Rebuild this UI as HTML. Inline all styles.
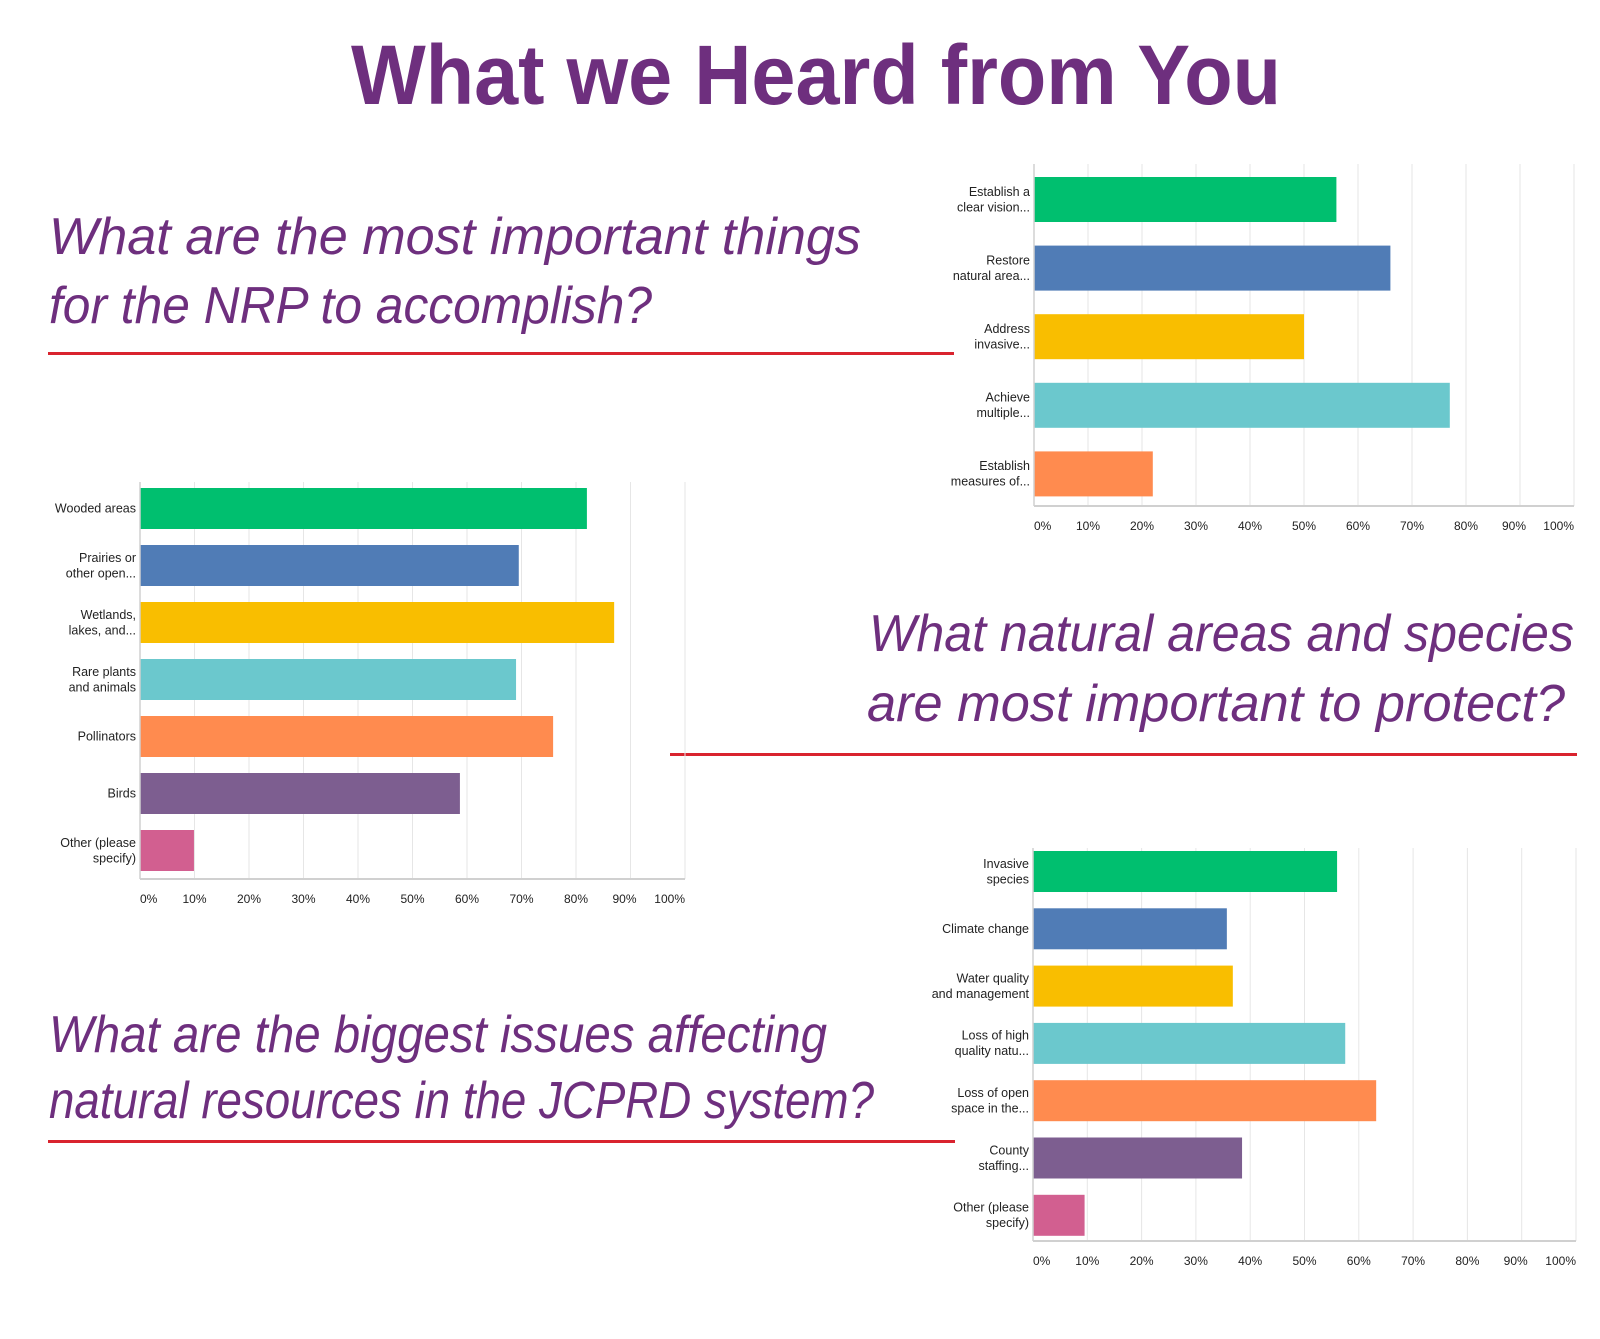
<!DOCTYPE html>
<html><head><meta charset="utf-8"><style>
html,body{margin:0;padding:0;background:#fff;width:1600px;height:1339px;overflow:hidden}
svg{display:block}
.lbl{font-family:"Liberation Sans",sans-serif;font-size:12.5px;fill:#222;text-anchor:end}
.tick{font-family:"Liberation Sans",sans-serif;font-size:12px;fill:#222}
.q{font-family:"Liberation Sans",sans-serif;font-style:italic;font-size:52px;fill:#6e2f7e}
</style></head><body>
<svg id="page" width="1600" height="1339" viewBox="0 0 1600 1339">
<text x="816" y="104" text-anchor="middle" textLength="930" lengthAdjust="spacingAndGlyphs" style="font-family:'Liberation Sans',sans-serif;font-weight:bold;font-size:84px;fill:#6e2f7e">What we Heard from You</text>

<g>
<text class="q" x="49" y="254" textLength="812" lengthAdjust="spacingAndGlyphs">What are the most important things</text>
<text class="q" x="49" y="323" textLength="603" lengthAdjust="spacingAndGlyphs">for the NRP to accomplish?</text>
<rect x="48" y="352" width="906" height="3" fill="#d9232e"/>
</g>
<g>
<text class="q" x="869" y="651" textLength="705" lengthAdjust="spacingAndGlyphs">What natural areas and species</text>
<text class="q" x="867" y="721" textLength="698" lengthAdjust="spacingAndGlyphs">are most important to protect?</text>
<rect x="670" y="753" width="907" height="3" fill="#d9232e"/>
</g>
<g>
<text class="q" x="49" y="1052" textLength="778" lengthAdjust="spacingAndGlyphs">What are the biggest issues affecting</text>
<text class="q" x="49" y="1118" textLength="825" lengthAdjust="spacingAndGlyphs">natural resources in the JCPRD system?</text>
<rect x="48" y="1140" width="907" height="3" fill="#d9232e"/>
</g>
<g id="charts"></g>
</svg>
<script>
const colors = ["#00bf6f","#507cb6","#f9be00","#6bc8cd","#ff8b4f","#7d5e90","#d25f90"];
const ticks = ["0%","10%","20%","30%","40%","50%","60%","70%","80%","90%","100%"];
const goalsCats = [["Establish a","clear vision..."],["Restore","natural area..."],["Address","invasive..."],["Achieve","multiple..."],["Establish","measures of..."]];
const goalsVals = [56,66,50,77,22];
const areasCats = [["Wooded areas"],["Prairies or","other open..."],["Wetlands,","lakes, and..."],["Rare plants","and animals"],["Pollinators"],["Birds"],["Other (please","specify)"]];
const areasVals = [82,69.5,87,69,75.8,58.7,9.9];
const issuesCats = [["Invasive","species"],["Climate change"],["Water quality","and management"],["Loss of high","quality natu..."],["Loss of open","space in the..."],["County","staffing..."],["Other (please","specify)"]];
const issuesVals = [56,35.7,36.8,57.5,63.2,38.5,9.5];

const NS="http://www.w3.org/2000/svg";
function mk(tag,attrs,parent){const e=document.createElementNS(NS,tag);for(const k in attrs)e.setAttribute(k,attrs[k]);parent.appendChild(e);return e;}
function chart(name,cats,vals,x0,w,top,barTop,pitch,bh,axisY){
  const root=document.getElementById('charts');
  const g=mk('g',{},root);
  
  
  const xs=v=>x0+v/100*w;
  for(let i=1;i<ticks.length;i++){
    const gl=mk('line',{x1:xs(i*10),x2:xs(i*10),y1:top,y2:axisY,stroke:'#e6e6e6','stroke-width':1},g);
    
    
  }
  cats.forEach((c,i)=>{
    const y=barTop+i*pitch;
    const r=mk('rect',{x:x0,y:y,width:xs(vals[i])-x0,height:bh,fill:colors[i]},g);
    
    
    const t=mk('text',{class:'lbl',x:x0-4},g);
    
    
    const cy=y+bh/2;
    c.forEach((s,j)=>{const ts=mk('tspan',{x:x0-4,y:cy+4+(j-(c.length-1)/2)*15.5},t);ts.textContent=s;});
  });
  const ax=mk('line',{x1:x0,x2:x0+w,y1:axisY,y2:axisY,stroke:'#d0d0d0','stroke-width':2},g);
  
  
  const ay=mk('line',{x1:x0,x2:x0,y1:top,y2:axisY,stroke:'#d0d0d0','stroke-width':1.5},g);
  
  
  ticks.forEach((tk,i)=>{
    let x=xs(i*10), anchor='middle';
    if(i===0){anchor='start';x=x0;}
    if(i===10){anchor='end';x=x0+w;}
    if(i===9){x-=6;}
    const t=mk('text',{class:'tick',x:x,y:axisY+24,'text-anchor':anchor},g);
    
    
    t.textContent=tk;
  });
}
chart('goals-chart',goalsCats,goalsVals,1034,540,164,177,68.6,45,506);
chart('areas-chart',areasCats,areasVals,140,545,482,488,57,41,879);
chart('issues-chart',issuesCats,issuesVals,1033,543,848,851,57.3,41,1241);
</script>
</body></html>
